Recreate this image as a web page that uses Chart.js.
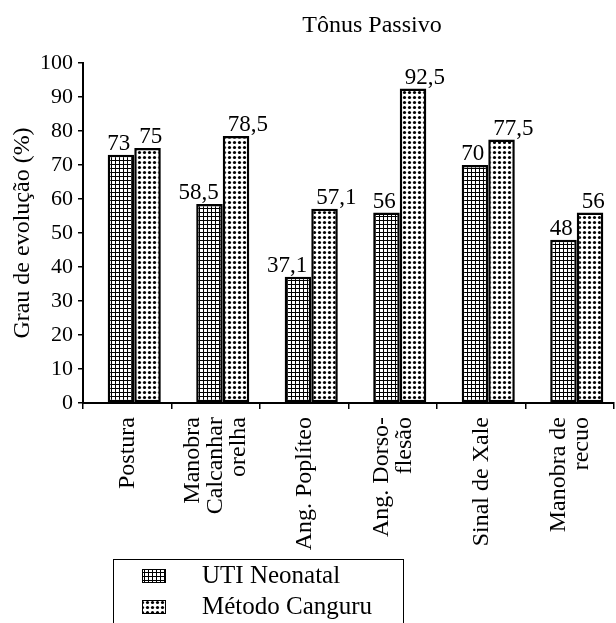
<!DOCTYPE html>
<html>
<head>
<meta charset="utf-8">
<script src="https://cdn.jsdelivr.net/npm/chart.js@4"></script>
<style>
  body { margin: 0; background: #fff; }
  canvas { display: block; }
</style>
</head>
<body>
<canvas id="grafico" width="616" height="623"></canvas>
<script>
// dados
const titulo = 'Tônus Passivo';
const categorias = [['Postura'], ['Manobra', 'Calcanhar', 'orelha'], ['Ang. Poplíteo'], ['Ang. Dorso-', 'flesão'], ['Sinal de Xale'], ['Manobra de', 'recuo']];
const utiNeonatal = [73, 58.5, 37.1, 56, 70, 48];
const metodoCanguru = [75, 78.5, 57.1, 92.5, 77.5, 56];
const yTicks = [0, 10, 20, 30, 40, 50, 60, 70, 80, 90, 100];

const fonte = "'Liberation Serif', 'Times New Roman', serif";
Chart.defaults.font.family = fonte;
Chart.defaults.color = '#000';

// no original as barras ficam um pouco a direita do centro da categoria
const deslocBarras = 7;

function padraoGrade(){
    let c = document.createElement('canvas');
    c.width = 4; c.height = 4;
    let g = c.getContext('2d');
    g.fillStyle = '#fff';
    g.fillRect(0, 0, 4, 4);
    g.fillStyle = '#000';
    g.fillRect(0, 0, 4, 1);
    g.fillRect(0, 0, 1, 4);
    return g.createPattern(c, 'repeat');
}

function padraoPontos(){
    let c = document.createElement('canvas');
    c.width = 5; c.height = 5;
    let g = c.getContext('2d');
    g.fillStyle = '#fff';
    g.fillRect(0, 0, 5, 5);
    g.fillStyle = '#000';
    g.beginPath();
    g.arc(2.5, 2.5, 1.6, 0, Math.PI * 2);
    g.fill();
    return g.createPattern(c, 'repeat');
}

function formata(v){
    return String(v).replace('.', ',');
}

const extras = {
    id: 'extras',
    beforeDatasetsDraw(chart){
        chart.ctx.save();
        chart.ctx.translate(deslocBarras, 0);
    },
    afterDatasetsDraw(chart){
        let ctx = chart.ctx;
        ctx.restore();
        ctx.save();
        ctx.fillStyle = '#000';
        // rotulos dos valores
        ctx.font = '23px ' + fonte;
        ctx.textBaseline = 'alphabetic';
        chart.data.datasets.forEach((ds, i) => {
            chart.getDatasetMeta(i).data.forEach((bar, j) => {
                let w = bar.width;
                let bx = bar.x + deslocBarras;
                if(i == 0){
                    ctx.textAlign = 'right';
                    ctx.fillText(formata(ds.data[j]), bx + w / 2 - 4, bar.y - 5);
                }
                else{
                    ctx.textAlign = 'left';
                    ctx.fillText(formata(ds.data[j]), bx - w / 2 + 5, bar.y - 5);
                }
            });
        });
        // categorias (giradas, linhas centradas no tick)
        let xScale = chart.scales.x;
        ctx.font = '24px ' + fonte;
        ctx.textAlign = 'right';
        ctx.textBaseline = 'middle';
        categorias.forEach((linhas, j) => {
            let cx = xScale.getPixelForValue(j);
            linhas.forEach((txt, k) => {
                let lx = cx + (k - (linhas.length - 1) / 2) * 23;
                ctx.save();
                ctx.translate(lx, 417);
                ctx.rotate(-Math.PI / 2);
                ctx.fillText(txt, 0, 0);
                ctx.restore();
            });
        });
        // titulo
        ctx.font = '24px ' + fonte;
        ctx.textAlign = 'center';
        ctx.textBaseline = 'alphabetic';
        ctx.fillText(titulo, 372, 32);
        // legenda
        ctx.lineWidth = 1;
        ctx.strokeStyle = '#000';
        ctx.strokeRect(113.5, 559.5, 290, 80);
        chart.data.datasets.forEach((ds, i) => {
            let y = 569 + i * 31;
            ctx.fillStyle = ds.backgroundColor;
            ctx.fillRect(142, y, 24, 14);
            ctx.strokeRect(142.5, y + 0.5, 23, 13);
            ctx.fillStyle = '#000';
            ctx.font = '25px ' + fonte;
            ctx.textAlign = 'left';
            ctx.fillText(ds.label, 202, y + 14);
        });
        ctx.restore();
    }
};

var ctx = document.getElementById('grafico').getContext('2d');
var myChart = new Chart(ctx, {
    type: 'bar',
    data: {
        labels: categorias,
        datasets: [{
            label: 'UTI Neonatal',
            data: utiNeonatal,
            backgroundColor: padraoGrade(),
            borderColor: '#000',
            borderWidth: 2.5,
            borderSkipped: false
        }, {
            label: 'Método Canguru',
            data: metodoCanguru,
            backgroundColor: padraoPontos(),
            borderColor: '#000',
            borderWidth: 2.5,
            borderSkipped: false
        }]
    },
    options: {
        responsive: false,
        animation: false,
        devicePixelRatio: 1,
        layout: { padding: { top: 63, left: 0, right: 2, bottom: 0 } },
        datasets: { bar: { barPercentage: 1, categoryPercentage: 0.6 } },
        plugins: {
            legend: { display: false },
            tooltip: { enabled: false }
        },
        scales: {
            x: {
                grid: { drawOnChartArea: false, offset: true, tickLength: 6, color: '#000', lineWidth: 1.5 },
                border: { color: '#000', width: 2 },
                ticks: { display: false },
                afterFit(scale){
                    scale.height = 220;
                    scale.paddingLeft = 0;
                    scale.paddingRight = 0;
                }
            },
            y: {
                min: 0,
                max: 100,
                afterBuildTicks(scale){
                    scale.ticks = yTicks.map(v => ({ value: v }));
                },
                grid: { drawOnChartArea: false, tickLength: 5, color: '#000', lineWidth: 1.5 },
                border: { color: '#000', width: 2 },
                ticks: { padding: 5, font: { size: 22 } },
                title: { display: true, text: 'Grau de evolução (%)', font: { size: 24 }, padding: { top: 8, bottom: 0 } },
                afterFit(scale){
                    scale.width = 83;
                }
            }
        }
    },
    plugins: [extras]
});
</script>
</body>
</html>
